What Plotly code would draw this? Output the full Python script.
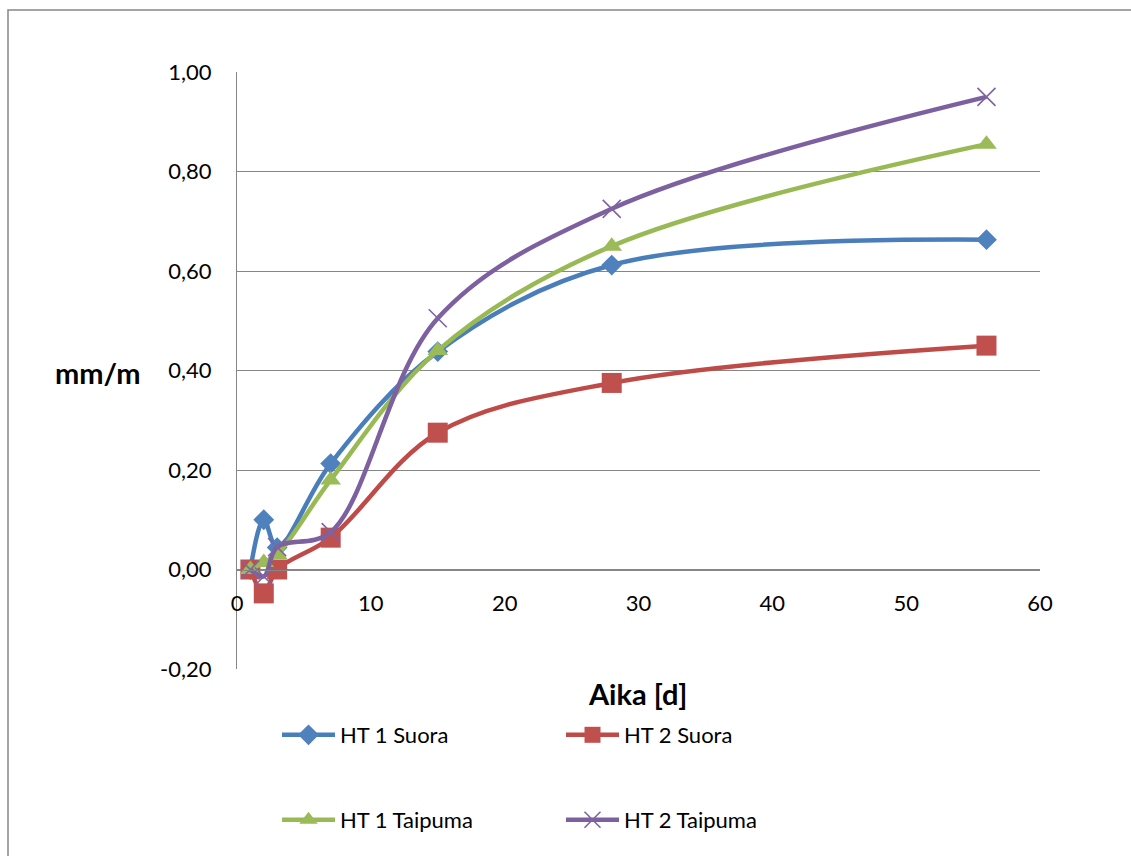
import plotly.graph_objects as go

# Measurement days
days = [1, 2, 3, 7, 15, 28, 56]

# Strain (mm/m) per specimen
ht1_suora = [0.0, 0.10, 0.044, 0.213, 0.438, 0.612, 0.663]
ht2_suora = [0.0, -0.048, 0.0, 0.064, 0.275, 0.375, 0.45]
ht1_taipuma = [0.0, 0.014, 0.03, 0.18, 0.44, 0.65, 0.855]
ht2_taipuma = [0.0, -0.014, 0.045, 0.075, 0.505, 0.725, 0.95]

series_names = ["HT 1 Suora", "HT 2 Suora", "HT 1 Taipuma", "HT 2 Taipuma"]

y_ticks = [-0.2, 0.0, 0.2, 0.4, 0.6, 0.8, 1.0]
y_ticktext = [f"{v:.2f}".replace(".", ",") for v in y_ticks]
x_ticks = [0, 10, 20, 30, 40, 50, 60]

W, H = 1131, 856
L, R, T, B = 237, 91, 72, 187
FONT = "Lato"
GRID = "#868686"

styles = [
    dict(line="#4A7EBB", fill="#4F81BD", symbol="diamond", size=16, lw=0),
    dict(line="#BE4B48", fill="#C0504D", symbol="square", size=20, lw=0),
    dict(line="#98B954", fill="#9BBB59", symbol="triangle-up", size=18, lw=0),
    dict(line="#7D60A0", fill="#8064A2", symbol="x-thin", size=18, lw=1.6),
]
data = [ht1_suora, ht2_suora, ht1_taipuma, ht2_taipuma]

fig = go.Figure()
for i, (name, vals, st) in enumerate(zip(series_names, data, styles)):
    marker = dict(symbol=st["symbol"], size=st["size"], color=st["fill"])
    if st["lw"]:
        marker["line"] = dict(color=st["fill"], width=st["lw"])
    fig.add_trace(go.Scatter(
        x=days, y=vals, name=name, mode="lines+markers",
        line=dict(color=st["line"], width=4.5, shape="spline", smoothing=1),
        marker=marker,
        legend="legend" if i == 0 else f"legend{i + 1}",
    ))

# One legend box per entry, laid out in a 2x2 grid below the plot
legend_pos = [(277, 735), (561, 735), (277, 820), (561, 820)]
legend_layout = {}
for i, (px, py) in enumerate(legend_pos):
    key = "legend" if i == 0 else f"legend{i + 1}"
    legend_layout[key] = dict(
        x=px / W, y=1 - py / H, xref="container", yref="container",
        xanchor="left", yanchor="middle", bgcolor="rgba(0,0,0,0)",
        font=dict(family=FONT, size=22, color="#000000"),
        itemwidth=53, borderwidth=0,
    )

plot_h = H - T - B
plot_w = W - L - R
y_min, y_max = -0.2, 1.0

fig.update_layout(
    width=W, height=H,
    margin=dict(l=L, r=R, t=T, b=B, pad=0, autoexpand=False),
    paper_bgcolor="white", plot_bgcolor="white",
    font=dict(family=FONT, size=22, color="#000000"),
    showlegend=True,
    xaxis=dict(
        range=[0, 60], tickvals=x_ticks, showgrid=False, zeroline=False,
        showline=True, linecolor=GRID, linewidth=1.3, ticks="",
        anchor="free", position=(0 - y_min) / (y_max - y_min),
        automargin=False,
        ticklabelstandoff=14, tickfont=dict(family=FONT, size=22),
    ),
    yaxis=dict(
        range=[y_min, y_max], tickvals=y_ticks, ticktext=y_ticktext,
        showgrid=True, gridcolor=GRID, gridwidth=1.3, zeroline=False,
        showline=True, linecolor=GRID, linewidth=1.3, ticks="",
        automargin=False,
        ticklabelstandoff=20, tickfont=dict(family=FONT, size=22),
    ),
    annotations=[
        dict(text="<b>mm/m</b>", xref="paper", yref="paper",
             x=(98 - L) / plot_w, y=(H - B - 372) / plot_h,
             xanchor="center", yanchor="middle", showarrow=False,
             font=dict(family=FONT, size=29, color="#000000")),
        dict(text="<b>Aika [d]</b>", xref="paper", yref="paper",
             x=(637 - L) / plot_w, y=(H - B - 693) / plot_h,
             xanchor="center", yanchor="middle", showarrow=False,
             font=dict(family=FONT, size=29, color="#000000")),
    ],
    shapes=[
        dict(type="rect", xref="paper", yref="paper",
             x0=(8 - L) / plot_w, x1=(1140 - L) / plot_w,
             y0=(H - B - 900) / plot_h, y1=(H - B - 10) / plot_h,
             line=dict(color=GRID, width=1.5), fillcolor="rgba(0,0,0,0)",
             layer="below"),
    ],
    **legend_layout,
)

fig.write_html("out.html")
